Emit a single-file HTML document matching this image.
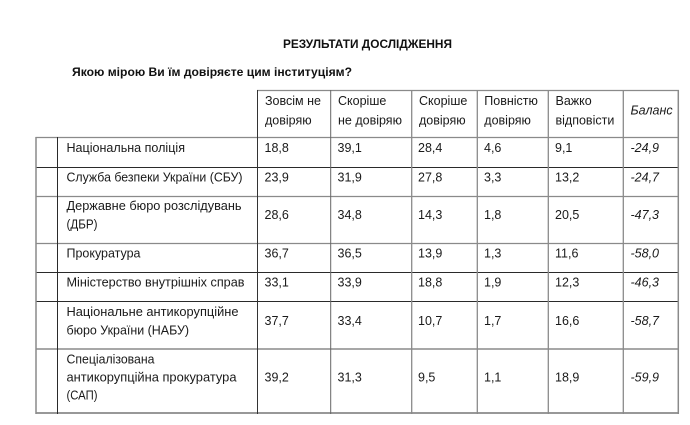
<!DOCTYPE html>
<html>
<head>
<meta charset="utf-8">
<style>
  html,body{margin:0;padding:0;background:#fff;}
  body{width:690px;height:425px;overflow:hidden;}
  svg{display:block;}
  text{font-family:"Liberation Sans","DejaVu Sans",sans-serif;font-size:12.5px;fill:#1a1a1a;}
  .b{font-weight:bold;fill:#111;font-size:12px;}
  .i{font-style:italic;}
</style>
</head>
<body>
<svg width="690" height="425" viewBox="0 0 690 425" xmlns="http://www.w3.org/2000/svg">
  <rect width="690" height="425" fill="#fff"/>

  <!-- Title -->
  <text class="b" x="283" y="48" textLength="169" lengthAdjust="spacingAndGlyphs">РЕЗУЛЬТАТИ ДОСЛІДЖЕННЯ</text>
  <text class="b" x="72" y="76" textLength="280" lengthAdjust="spacingAndGlyphs">Якою мірою Ви їм довіряєте цим інституціям?</text>

  <!-- Grid lines -->
  <g fill="none">
    <line x1="257" y1="90.5" x2="679" y2="90.5" stroke="#8a8a8a" stroke-width="1.3"/>
    <line x1="35.5" y1="137.5" x2="679" y2="137.5" stroke="#8a8a8a" stroke-width="1.3"/>
    <line x1="35.5" y1="167.5" x2="679" y2="167.5" stroke="#2a2a2a" stroke-width="1"/>
    <line x1="35.5" y1="196.5" x2="679" y2="196.5" stroke="#8a8a8a" stroke-width="1.3"/>
    <line x1="35.5" y1="243.5" x2="679" y2="243.5" stroke="#8a8a8a" stroke-width="1.3"/>
    <line x1="35.5" y1="272.5" x2="679" y2="272.5" stroke="#2a2a2a" stroke-width="1"/>
    <line x1="35.5" y1="301.5" x2="679" y2="301.5" stroke="#2a2a2a" stroke-width="1"/>
    <line x1="35.5" y1="349" x2="679" y2="349" stroke="#8a8a8a" stroke-width="1.6"/>
    <line x1="35.5" y1="413" x2="679" y2="413" stroke="#8a8a8a" stroke-width="1.8"/>
    <line x1="36" y1="137" x2="36" y2="414" stroke="#8a8a8a" stroke-width="1.5"/>
    <line x1="57.5" y1="137" x2="57.5" y2="414" stroke="#2a2a2a" stroke-width="1"/>
    <line x1="257.5" y1="90" x2="257.5" y2="414" stroke="#333" stroke-width="1"/>
    <line x1="330.7" y1="90" x2="330.7" y2="414" stroke="#666" stroke-width="1"/>
    <line x1="411.7" y1="90" x2="411.7" y2="414" stroke="#8a8a8a" stroke-width="1.3"/>
    <line x1="477.3" y1="90" x2="477.3" y2="414" stroke="#8a8a8a" stroke-width="1.3"/>
    <line x1="548.3" y1="90" x2="548.3" y2="414" stroke="#8a8a8a" stroke-width="1.3"/>
    <line x1="623.3" y1="90" x2="623.3" y2="414" stroke="#8a8a8a" stroke-width="1.3"/>
    <line x1="678.3" y1="90" x2="678.3" y2="414" stroke="#8a8a8a" stroke-width="1.5"/>
  </g>

  <!-- Header -->
  <text x="265" y="105">Зовсім не</text>
  <text x="265" y="124.5">довіряю</text>
  <text x="338" y="105">Скоріше</text>
  <text x="338" y="124.5">не довіряю</text>
  <text x="419" y="105">Скоріше</text>
  <text x="419" y="124.5">довіряю</text>
  <text x="484.3" y="105">Повністю</text>
  <text x="484.3" y="124.5">довіряю</text>
  <text x="555.5" y="105">Важко</text>
  <text x="555.5" y="124.5">відповісти</text>
  <text class="i" x="630.5" y="114.7">Баланс</text>

  <!-- Labels -->
  <text x="66.5" y="152" textLength="118.5" lengthAdjust="spacingAndGlyphs">Національна поліція</text>
  <text x="66.5" y="181.5" textLength="176" lengthAdjust="spacingAndGlyphs">Служба безпеки України (СБУ)</text>
  <text x="66.5" y="210" textLength="175" lengthAdjust="spacingAndGlyphs">Державне бюро розслідувань</text>
  <text x="66.5" y="228.3" textLength="31" lengthAdjust="spacingAndGlyphs">(ДБР)</text>
  <text x="66.5" y="257.7" textLength="74" lengthAdjust="spacingAndGlyphs">Прокуратура</text>
  <text x="66.5" y="286.7" textLength="178" lengthAdjust="spacingAndGlyphs">Міністерство внутрішніх справ</text>
  <text x="66.5" y="316" textLength="172" lengthAdjust="spacingAndGlyphs">Національне антикорупційне</text>
  <text x="66.5" y="334.3" textLength="122.5" lengthAdjust="spacingAndGlyphs">бюро України (НАБУ)</text>
  <text x="66.5" y="363.3" textLength="88" lengthAdjust="spacingAndGlyphs">Спеціалізована</text>
  <text x="66.5" y="381.5" textLength="170" lengthAdjust="spacingAndGlyphs">антикорупційна прокуратура</text>
  <text x="66.5" y="399.5" textLength="31" lengthAdjust="spacingAndGlyphs">(САП)</text>

  <g>
    <text x="264.5" y="152">18,8</text>
    <text x="337.5" y="152">39,1</text>
    <text x="418" y="152">28,4</text>
    <text x="484" y="152">4,6</text>
    <text x="555" y="152">9,1</text>
    <text class="i" x="630.5" y="152">-24,9</text>
  </g>
  <g>
    <text x="264.5" y="181.5">23,9</text>
    <text x="337.5" y="181.5">31,9</text>
    <text x="418" y="181.5">27,8</text>
    <text x="484" y="181.5">3,3</text>
    <text x="555" y="181.5">13,2</text>
    <text class="i" x="630.5" y="181.5">-24,7</text>
  </g>
  <g>
    <text x="264.5" y="219.2">28,6</text>
    <text x="337.5" y="219.2">34,8</text>
    <text x="418" y="219.2">14,3</text>
    <text x="484" y="219.2">1,8</text>
    <text x="555" y="219.2">20,5</text>
    <text class="i" x="630.5" y="219.2">-47,3</text>
  </g>
  <g>
    <text x="264.5" y="257.7">36,7</text>
    <text x="337.5" y="257.7">36,5</text>
    <text x="418" y="257.7">13,9</text>
    <text x="484" y="257.7">1,3</text>
    <text x="555" y="257.7">11,6</text>
    <text class="i" x="630.5" y="257.7">-58,0</text>
  </g>
  <g>
    <text x="264.5" y="286.7">33,1</text>
    <text x="337.5" y="286.7">33,9</text>
    <text x="418" y="286.7">18,8</text>
    <text x="484" y="286.7">1,9</text>
    <text x="555" y="286.7">12,3</text>
    <text class="i" x="630.5" y="286.7">-46,3</text>
  </g>
  <g>
    <text x="264.5" y="325">37,7</text>
    <text x="337.5" y="325">33,4</text>
    <text x="418" y="325">10,7</text>
    <text x="484" y="325">1,7</text>
    <text x="555" y="325">16,6</text>
    <text class="i" x="630.5" y="325">-58,7</text>
  </g>
  <g>
    <text x="264.5" y="381.3">39,2</text>
    <text x="337.5" y="381.3">31,3</text>
    <text x="418" y="381.3">9,5</text>
    <text x="484" y="381.3">1,1</text>
    <text x="555" y="381.3">18,9</text>
    <text class="i" x="630.5" y="381.3">-59,9</text>
  </g>
</svg>
</body>
</html>
